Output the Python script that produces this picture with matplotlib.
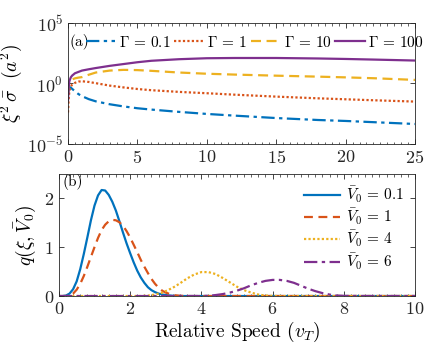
import numpy as np
import matplotlib
matplotlib.use("Agg")
import matplotlib.pyplot as plt
from matplotlib.ticker import MultipleLocator, FixedLocator, LogFormatterMathtext, NullLocator

plt.rcParams['font.family'] = 'serif'
plt.rcParams['font.serif'] = ['cmr10']
plt.rcParams['mathtext.fontset'] = 'cm'
plt.rcParams['axes.formatter.use_mathtext'] = True

# Panel (a): xi^2 sigma-bar vs relative speed (log10 of values)
xa = [0, 0.05, 0.1, 0.2, 0.3, 0.5, 0.75, 1, 1.5, 2, 3, 4, 5, 6, 8, 10, 12, 15, 18, 20, 22, 25]
g01_log = [-0.9, -0.35, -0.3, -0.35, -0.45, -0.65, -0.88, -1.05, -1.3, -1.48, -1.72, -1.9, -2.05, -2.16,
           -2.35, -2.52, -2.66, -2.86, -3.02, -3.1, -3.2, -3.35]
g1_log = [-2.4, -1.2, -0.6, -0.25, -0.1, 0.05, 0.15, 0.18, 0.12, 0.02, -0.18, -0.33, -0.46, -0.56,
          -0.7, -0.81, -0.93, -1.09, -1.23, -1.31, -1.39, -1.5]
g10_log = [-0.8, -0.2, 0.1, 0.25, 0.33, 0.42, 0.48, 0.52, 0.72, 0.9, 1.06, 1.12, 1.1, 1.04,
           0.9, 0.8, 0.73, 0.64, 0.56, 0.5, 0.43, 0.29]
g100_log = [-1.4, -0.3, 0.2, 0.5, 0.65, 0.84, 0.95, 1.06, 1.17, 1.27, 1.45, 1.6, 1.75, 1.87,
            2.0, 2.08, 2.1, 2.1, 2.06, 2.02, 1.97, 1.89]
labels_a = [r'$\Gamma\,=\,0.1$', r'$\Gamma\,=\,1$', r'$\Gamma\,=\,10$', r'$\Gamma\,=\,100$']

# Panel (b): q(xi, V0)
xb = [0, 0.1, 0.2, 0.3, 0.4, 0.5, 0.6, 0.7, 0.8, 0.9, 1.0, 1.1, 1.2, 1.3, 1.4, 1.5, 1.6, 1.7, 1.8, 1.9,
      2.0, 2.1, 2.2, 2.3, 2.4, 2.5, 2.6, 2.7, 2.8, 2.9, 3.0, 3.2, 3.4, 3.6, 3.8,
      4.0, 4.2, 4.4, 4.6, 4.8, 5.0, 5.2, 5.4, 5.6, 5.8, 6.0, 6.2, 6.4, 6.6, 6.8, 7.0, 7.2, 7.4, 7.6, 7.8,
      8.0, 8.5, 9.0, 9.5, 10.0]
q01 = [0, 0, 0.01, 0.05, 0.14, 0.3, 0.55, 0.86, 1.2, 1.55, 1.85, 2.06, 2.17, 2.16, 2.07, 1.93, 1.75, 1.53, 1.3, 1.08,
       0.88, 0.69, 0.52, 0.38, 0.27, 0.18, 0.12, 0.08, 0.05, 0.03, 0.02, 0.005, 0, 0, 0,
       0, 0, 0, 0, 0, 0, 0, 0, 0, 0, 0, 0, 0, 0, 0, 0, 0, 0, 0, 0,
       0, 0, 0, 0, 0]
q1 = [0, 0, 0, 0.01, 0.05, 0.13, 0.25, 0.41, 0.6, 0.8, 1.0, 1.19, 1.35, 1.46, 1.53, 1.56, 1.55, 1.51, 1.44, 1.33,
      1.2, 1.05, 0.9, 0.74, 0.6, 0.47, 0.35, 0.25, 0.17, 0.11, 0.07, 0.02, 0.005, 0, 0,
      0, 0, 0, 0, 0, 0, 0, 0, 0, 0, 0, 0, 0, 0, 0, 0, 0, 0, 0, 0,
      0, 0, 0, 0, 0]
q4 = [0, 0, 0, 0, 0, 0, 0, 0, 0, 0, 0, 0, 0, 0, 0, 0, 0, 0, 0, 0,
      0, 0, 0, 0, 0.005, 0.008, 0.02, 0.03, 0.05, 0.07, 0.1, 0.17, 0.26, 0.36, 0.44,
      0.49, 0.49, 0.45, 0.37, 0.28, 0.19, 0.12, 0.07, 0.03, 0.01, 0.003, 0, 0, 0, 0, 0, 0, 0, 0, 0,
      0, 0, 0, 0, 0]
q6 = [0, 0, 0, 0, 0, 0, 0, 0, 0, 0, 0, 0, 0, 0, 0, 0, 0, 0, 0, 0,
      0, 0, 0, 0, 0, 0, 0, 0, 0, 0, 0, 0, 0, 0, 0,
      0, 0.005, 0.02, 0.04, 0.07, 0.11, 0.16, 0.22, 0.27, 0.31, 0.33, 0.33, 0.31, 0.27, 0.21, 0.15, 0.1, 0.06, 0.03, 0.01,
      0.003, 0, 0, 0, 0]
labels_b = [r'$\bar{V}_0\,=\,0.1$', r'$\bar{V}_0\,=\,1$', r'$\bar{V}_0\,=\,4$', r'$\bar{V}_0\,=\,6$']

C1, C2, C3, C4 = '#0072BD', '#D95319', '#EDB120', '#7E2F8E'
lw = 1.6

fig = plt.figure(figsize=(4.36, 3.52), dpi=100)
ax1 = fig.add_axes([0.156, 0.591, 0.796, 0.344])
ax2 = fig.add_axes([0.135, 0.159, 0.817, 0.347])

xa_arr = np.array(xa)
h1, = ax1.plot(xa_arr, 10 ** np.array(g01_log), color=C1, lw=lw, ls=(0, (6, 2, 1.5, 2)))
h2, = ax1.plot(xa_arr, 10 ** np.array(g1_log), color=C2, lw=lw, ls=(0, (1, 1)))
h3, = ax1.plot(xa_arr, 10 ** np.array(g10_log), color=C3, lw=lw, ls=(0, (4.5, 2.5)))
h4, = ax1.plot(xa_arr, 10 ** np.array(g100_log), color=C4, lw=lw, ls='-')
ax1.set_yscale('log')
ax1.set_xlim(0, 25)
ax1.set_ylim(1e-5, 1e5)
ax1.yaxis.set_major_locator(FixedLocator([1e-5, 1e0, 1e5]))
ax1.yaxis.set_major_formatter(LogFormatterMathtext())
ax1.yaxis.set_minor_locator(NullLocator())
ax1.xaxis.set_major_locator(MultipleLocator(5))
ax1.xaxis.set_minor_locator(MultipleLocator(0.5))
ax1.set_ylabel(r'$\xi^2\,\bar{\sigma}\ \ (a^2)$', fontsize=14, labelpad=2)
ax1.text(0.003, 0.84, '(a)', transform=ax1.transAxes, fontsize=11, va='center', ha='left')
ax1.legend([h1, h2, h3, h4], labels_a, loc='center left', bbox_to_anchor=(0.052, 0.84), ncol=4,
           frameon=False, fontsize=11, handlelength=1.9, handletextpad=0.25, columnspacing=0.25,
           borderaxespad=0, borderpad=0)

xb_arr = np.array(xb)
ax2.plot(xb_arr, q01, color=C1, lw=lw, ls='-', label=labels_b[0])
ax2.plot(xb_arr, q1, color=C2, lw=lw, ls=(0, (4, 2.5)), label=labels_b[1])
ax2.plot(xb_arr, q4, color=C3, lw=lw, ls=(0, (1, 1)), label=labels_b[2])
ax2.plot(xb_arr, q6, color=C4, lw=lw, ls=(0, (6, 2, 1.5, 2)), label=labels_b[3])
ax2.set_xlim(0, 10)
ax2.set_ylim(0, 2.5)
ax2.xaxis.set_major_locator(MultipleLocator(2))
ax2.xaxis.set_minor_locator(MultipleLocator(0.2))
ax2.yaxis.set_major_locator(MultipleLocator(1))
ax2.yaxis.set_minor_locator(NullLocator())
ax2.set_ylabel(r'$q(\xi,\bar{V}_0)$', fontsize=14, labelpad=4)
ax2.set_xlabel(r'Relative Speed ($v_T$)', fontsize=14, labelpad=2)
ax2.text(0.01, 0.93, '(b)', transform=ax2.transAxes, fontsize=11, va='center', ha='left')
ax2.legend(loc='upper right', frameon=False, fontsize=11, handlelength=2.4, handletextpad=0.4,
           labelspacing=0.15, borderaxespad=0.3)

for ax in (ax1, ax2):
    ax.tick_params(which='both', direction='in', top=True, right=True, labelsize=13, colors='#262626')
    ax.tick_params(which='major', length=3.5, width=0.6)
    ax.tick_params(which='minor', length=1.8, width=0.5)
    for s in ax.spines.values():
        s.set_color('#262626')
        s.set_linewidth(0.6)

fig.savefig('out.png', dpi=100)
